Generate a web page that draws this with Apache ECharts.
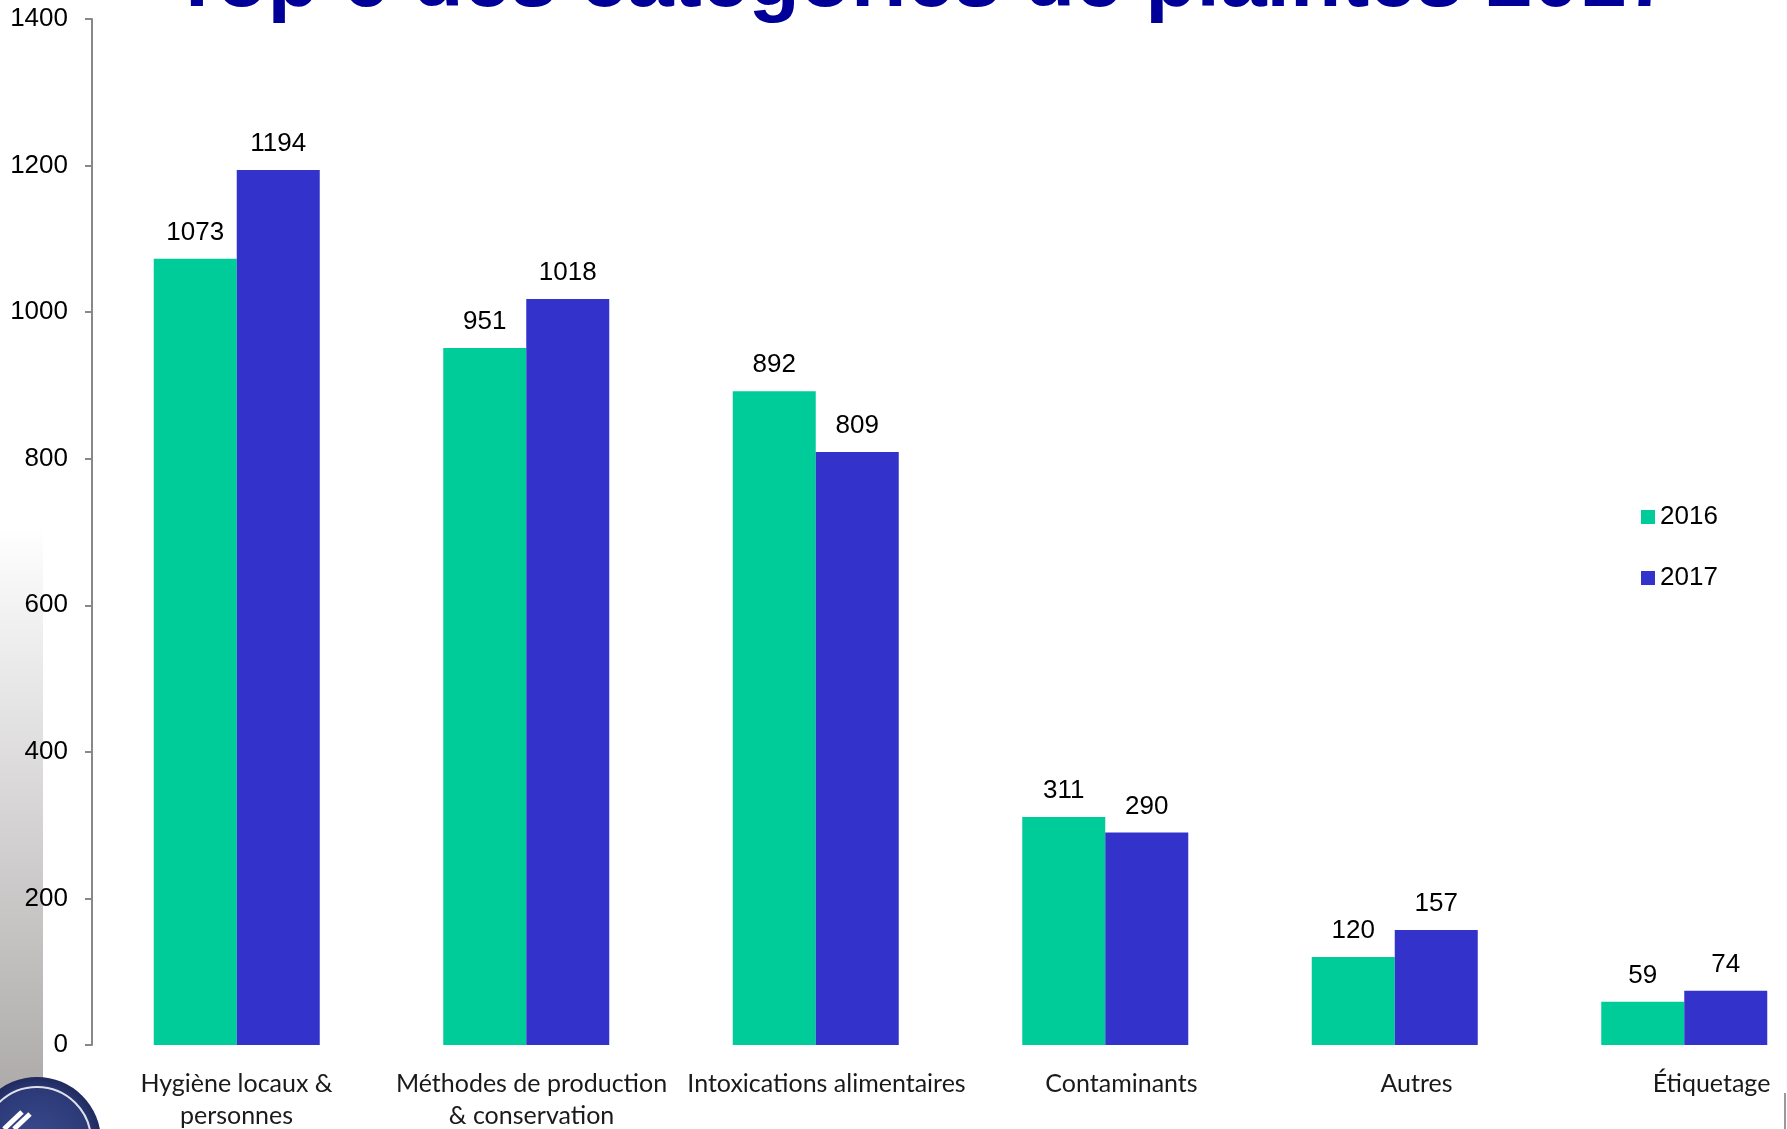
<!DOCTYPE html>
<html>
<head>
<meta charset="utf-8">
<script src="https://cdn.jsdelivr.net/npm/echarts@6/dist/echarts.min.js"></script>
<style>
html,body{margin:0;padding:0;background:#fff;}
#c{width:1787px;height:1129px;}
</style>
</head>
<body>
<div id="c"></div>
<script>
const titleText = 'Top 6 des catégories de plaintes 2017';
const categories = ['Hygiène locaux &\npersonnes', 'Méthodes de production\n& conservation', 'Intoxications alimentaires', 'Contaminants', 'Autres', 'Étiquetage'];
const seriesNames = ['2016', '2017'];
const values2016 = [1073, 951, 892, 311, 120, 59];
const values2017 = [1194, 1018, 809, 290, 157, 74];
const yTicks = [0, 200, 400, 600, 800, 1000, 1200, 1400];

const chart = echarts.init(document.getElementById('c'));
const numFont = '"Liberation Sans", Arial, sans-serif';
const labelFont = 'Lato, "Open Sans", sans-serif';

const option = {
  animation: false,
  backgroundColor: '#ffffff',
  legend: {
    orient: 'vertical',
    left: 1641,
    top: 504,
    padding: 0,
    itemWidth: 14,
    itemHeight: 14,
    itemGap: 35,
    icon: 'rect',
    data: seriesNames,
    textStyle: { fontFamily: numFont, fontSize: 26, color: '#000' }
  },
  grid: [
    { left: 92, width: 1737, top: 19, height: 1026, containLabel: false, outerBoundsMode: 'none' },
    { left: 89, width: 1770, top: 19, height: 1026, containLabel: false, outerBoundsMode: 'none' }
  ],
  xAxis: [
    {
      gridIndex: 0, type: 'category', data: categories,
      axisLine: { show: false }, axisTick: { show: false }, axisLabel: { show: false }
    },
    {
      gridIndex: 1, type: 'category', data: categories,
      axisLine: { show: false }, axisTick: { show: false },
      axisLabel: {
        interval: 0, margin: 23, fontFamily: labelFont, fontSize: 25, lineHeight: 32,
        color: '#1a1a1a', align: 'center', hideOverlap: false
      }
    }
  ],
  yAxis: [
    {
      gridIndex: 0, type: 'value', min: yTicks[0], max: yTicks[yTicks.length - 1], interval: 200,
      axisLine: { show: true, lineStyle: { color: '#888888', width: 2 } },
      axisTick: { show: true, length: 7, lineStyle: { color: '#888888', width: 2 } },
      splitLine: { show: false },
      axisLabel: { margin: 24, fontFamily: numFont, fontSize: 26, color: '#000', formatter: (v) => String(v) }
    },
    { gridIndex: 1, type: 'value', min: 0, max: 1400, show: false }
  ],
  series: [
    {
      name: seriesNames[0], type: 'bar', xAxisIndex: 0, yAxisIndex: 0,
      data: values2016, barWidth: 83, barGap: '0%',
      itemStyle: { color: '#00CC99' },
      label: { show: true, position: 'top', distance: 13, fontFamily: numFont, fontSize: 26, color: '#000' }
    },
    {
      name: seriesNames[1], type: 'bar', xAxisIndex: 0, yAxisIndex: 0,
      data: values2017, barWidth: 83, barGap: '0%',
      itemStyle: { color: '#3333CC' },
      label: { show: true, position: 'top', distance: 13, fontFamily: numFont, fontSize: 26, color: '#000' }
    }
  ],
  graphic: [
    {
      type: 'rect', z: -10, silent: true,
      shape: { x: 0, y: 525, width: 43, height: 604 },
      style: {
        fill: new echarts.graphic.LinearGradient(0, 0, 0, 1, [
          { offset: 0, color: '#ffffff' },
          { offset: 1, color: '#a9a5a5' }
        ])
      }
    },
    {
      type: 'circle', z: 10, silent: true,
      shape: { cx: 37, cy: 1141, r: 64 },
      style: {
        fill: new echarts.graphic.RadialGradient(0.5, 0.5, 0.5, [
          { offset: 0, color: '#3a4a8e' },
          { offset: 0.8, color: '#2c3a78' },
          { offset: 1, color: '#1f2a5c' }
        ])
      }
    },
    {
      type: 'circle', z: 11, silent: true,
      shape: { cx: 37, cy: 1141, r: 54 },
      style: { fill: 'none', stroke: 'rgba(255,255,255,0.85)', lineWidth: 2 }
    },
    {
      type: 'line', z: 12, silent: true,
      shape: { x1: 4, y1: 1129, x2: 22, y2: 1112 },
      style: { stroke: '#ffffff', lineWidth: 5 }
    },
    {
      type: 'line', z: 12, silent: true,
      shape: { x1: 14, y1: 1129, x2: 30, y2: 1114 },
      style: { stroke: '#ffffff', lineWidth: 5 }
    },
    {
      type: 'rect', z: 10, silent: true,
      shape: { x: 1784, y: 1093, width: 2, height: 36 },
      style: { fill: '#999999' }
    },
    {
      type: 'text', z: 20, silent: true,
      x: 922, y: -17,
      style: {
        text: titleText,
        fontFamily: numFont, fontWeight: 'bold', fontSize: 84,
        fill: '#000099', align: 'center', verticalAlign: 'middle'
      }
    }
  ]
};
chart.setOption(option);
</script>
</body>
</html>
